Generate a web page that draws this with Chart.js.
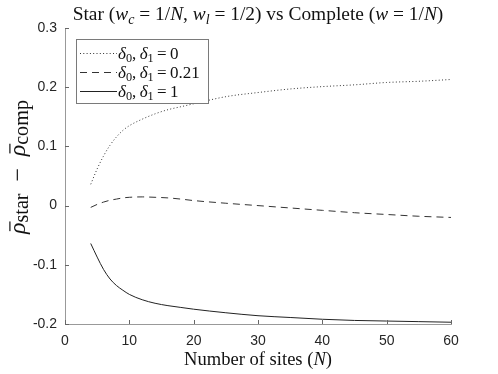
<!DOCTYPE html>
<html><head><meta charset="utf-8">
<script src="https://cdn.jsdelivr.net/npm/chart.js@4/dist/chart.umd.min.js"></script>
<style>html,body{margin:0;padding:0;background:#fff}canvas{display:block}</style>
</head><body>
<canvas id="c" width="498" height="374"></canvas>
<script>
// ---- data ----
const sitesN = [4,5,6,7,8,9,10,12,14,16,18,20,25,30,35,40,45,50,55,60];
const diffDelta0   = [0.036,0.062,0.084,0.102,0.116,0.127,0.135,0.146,0.155,0.162,0.167,0.172,0.184,0.191,0.197,0.201,0.204,0.208,0.210,0.213];
const diffDelta021 = [-0.003,0.002,0.006,0.009,0.011,0.013,0.014,0.0147,0.014,0.013,0.011,0.0085,0.004,0.0,-0.004,-0.008,-0.012,-0.015,-0.018,-0.020];
const diffDelta1   = [-0.064,-0.087,-0.108,-0.124,-0.135,-0.143,-0.150,-0.159,-0.165,-0.169,-0.172,-0.175,-0.181,-0.186,-0.189,-0.192,-0.194,-0.195,-0.196,-0.197];
const deltaValues  = ['0','0.21','1'];
const xTickValues  = [0,10,20,30,40,50,60];
const xTickLabels  = ['0','10','20','30','40','50','60'];
const yTickValues  = [-0.2,-0.1,0,0.1,0.2,0.3];
const yTickLabels  = ['-0.2','-0.1','0','0.1','0.2','0.3'];

// ---- text (rich segments) ----
const titleSegs = [{t:'Star ('},{t:'w',i:1},{t:'c',i:1,sub:1},{t:' = 1/'},{t:'N',i:1},{t:', '},{t:'w',i:1},{t:'l',i:1,sub:1},{t:' = 1/2) vs Complete ('},{t:'w',i:1},{t:' = 1/'},{t:'N',i:1},{t:')'}];
const xLabelSegs = [{t:'Number of sites ('},{t:'N',i:1},{t:')'}];
const yLabelSegs = [{t:'ρ',i:1,bar:1},{t:'star',sub:1,big:1},{t:'  −  '},{t:'ρ',i:1,bar:1},{t:'comp',sub:1,big:1}];
function legendSegs(v){ return [{t:'δ',i:1},{t:'0',sub:1},{t:',\u2009'},{t:'δ',i:1},{t:'1',sub:1},{t:'\u2009=\u2009'+v}]; }

const SERIF = '"Liberation Serif", "DejaVu Serif", serif';
function fontFor(s,size){ const sz = s.sub ? size*(s.big?0.85:0.72) : size; return (s.i?'italic ':'') + sz.toFixed(2) + 'px ' + SERIF; }
function richWidth(ctx,segs,size){ let w=0; for(const s of segs){ ctx.font=fontFor(s,size); w+=ctx.measureText(s.t).width; } return w; }
function fitSize(ctx,segs,target){ return 16*target/richWidth(ctx,segs,16); }
function drawRich(ctx,segs,x,y,size,align){
  const w = richWidth(ctx,segs,size);
  let cx = align==='center' ? x-w/2 : x;
  ctx.textAlign='left'; ctx.textBaseline='alphabetic';
  for(const s of segs){
    ctx.font=fontFor(s,size);
    const dy = s.sub ? size*(s.big?0.14:0.2) : 0;
    const mw = ctx.measureText(s.t).width;
    ctx.fillText(s.t,cx,y+dy);
    if(s.bar){ ctx.fillRect(cx+size*0.12, y-size*0.66, mw*0.85, Math.max(0.8,size*0.05)); }
    cx += mw;
  }
}

const textPlugin = {
  id:'customText',
  afterDatasetsDraw(chart){
    const ctx=chart.ctx;
    // legend box
    const bx=76, by=39, bw=132, bh=64;
    ctx.save();
    ctx.fillStyle='#fff'; ctx.fillRect(bx,by,bw,bh);
    ctx.strokeStyle='#7a7a7a'; ctx.lineWidth=1; ctx.strokeRect(bx+0.5,by+0.5,bw,bh);
    const lsize = 17;
    chart.data.datasets.forEach((ds,k)=>{
      const cy = by + 14.5 + k*19;
      ctx.strokeStyle=ds.borderColor; ctx.lineWidth=1; ctx.setLineDash(ds.borderDash||[]);
      ctx.beginPath(); ctx.moveTo(80,cy); ctx.lineTo(117,cy); ctx.stroke();
      ctx.setLineDash([]);
      ctx.fillStyle='#111';
      drawRich(ctx, legendSegs(deltaValues[k]), 118, cy+5, lsize, 'left');
    });
    ctx.restore();
  },
  afterDraw(chart){
    const ctx=chart.ctx, ca=chart.chartArea;
    const xs=chart.scales.x, ys=chart.scales.y;
    ctx.save();
    // inward tick marks
    ctx.strokeStyle='#666'; ctx.lineWidth=1;
    ctx.beginPath();
    xs.ticks.forEach(t=>{ const px=Math.round(xs.getPixelForValue(t.value))+0.5; ctx.moveTo(px,ca.bottom); ctx.lineTo(px,ca.bottom-4); });
    ys.ticks.forEach(t=>{ const py=Math.round(ys.getPixelForValue(t.value))+0.5; ctx.moveTo(ca.left,py); ctx.lineTo(ca.left+4,py); });
    ctx.stroke();
    ctx.fillStyle='#111';
    const cx=(ca.left+ca.right)/2;
    drawRich(ctx,titleSegs,cx,20,fitSize(ctx,titleSegs,371),'center');
    drawRich(ctx,xLabelSegs,cx,365,fitSize(ctx,xLabelSegs,148),'center');
    ctx.translate(25,167); ctx.rotate(-Math.PI/2);
    drawRich(ctx,yLabelSegs,0,0,fitSize(ctx,yLabelSegs,134),'center');
    ctx.restore();
  }
};

const tickFont = {family:'"Liberation Sans", Arial, sans-serif', size:14};
new Chart(document.getElementById('c'),{
  type:'line',
  data:{
    labels: sitesN,
    datasets:[
      {label:'δ0, δ1 = '+deltaValues[0], data:sitesN.map((n,i)=>({x:n,y:diffDelta0[i]})), borderColor:'#333', borderWidth:1, borderDash:[1,2.3], pointRadius:0, cubicInterpolationMode:'monotone', fill:false},
      {label:'δ0, δ1 = '+deltaValues[1], data:sitesN.map((n,i)=>({x:n,y:diffDelta021[i]})), borderColor:'#333', borderWidth:1, borderDash:[7,5], pointRadius:0, cubicInterpolationMode:'monotone', fill:false},
      {label:'δ0, δ1 = '+deltaValues[2], data:sitesN.map((n,i)=>({x:n,y:diffDelta1[i]})), borderColor:'#222', borderWidth:1, pointRadius:0, cubicInterpolationMode:'monotone', fill:false}
    ]
  },
  options:{
    responsive:false, animation:false, devicePixelRatio:1,
    layout:{padding:{top:28,right:47,left:0,bottom:0}},
    plugins:{legend:{display:false}, title:{display:false}, tooltip:{enabled:false}},
    scales:{
      x:{type:'linear', min:0, max:60,
        afterBuildTicks:s=>{ s.ticks = xTickValues.map(v=>({value:v})); },
        afterFit:s=>{ s.height=50; },
        ticks:{callback:(v,i)=>xTickLabels[i], font:tickFont, color:'#262626', padding:9, maxRotation:0, autoSkip:false},
        grid:{display:false, drawTicks:false},
        border:{display:true, color:'#999', width:1}},
      y:{type:'linear', min:-0.2, max:0.3,
        afterBuildTicks:s=>{ s.ticks = yTickValues.map(v=>({value:v})); },
        afterFit:s=>{ s.width=65; },
        ticks:{callback:(v,i)=>yTickLabels[i], font:tickFont, color:'#262626', padding:8, autoSkip:false},
        grid:{display:false, drawTicks:false},
        border:{display:true, color:'#999', width:1}}
    }
  },
  plugins:[textPlugin]
});
</script>
</body></html>
